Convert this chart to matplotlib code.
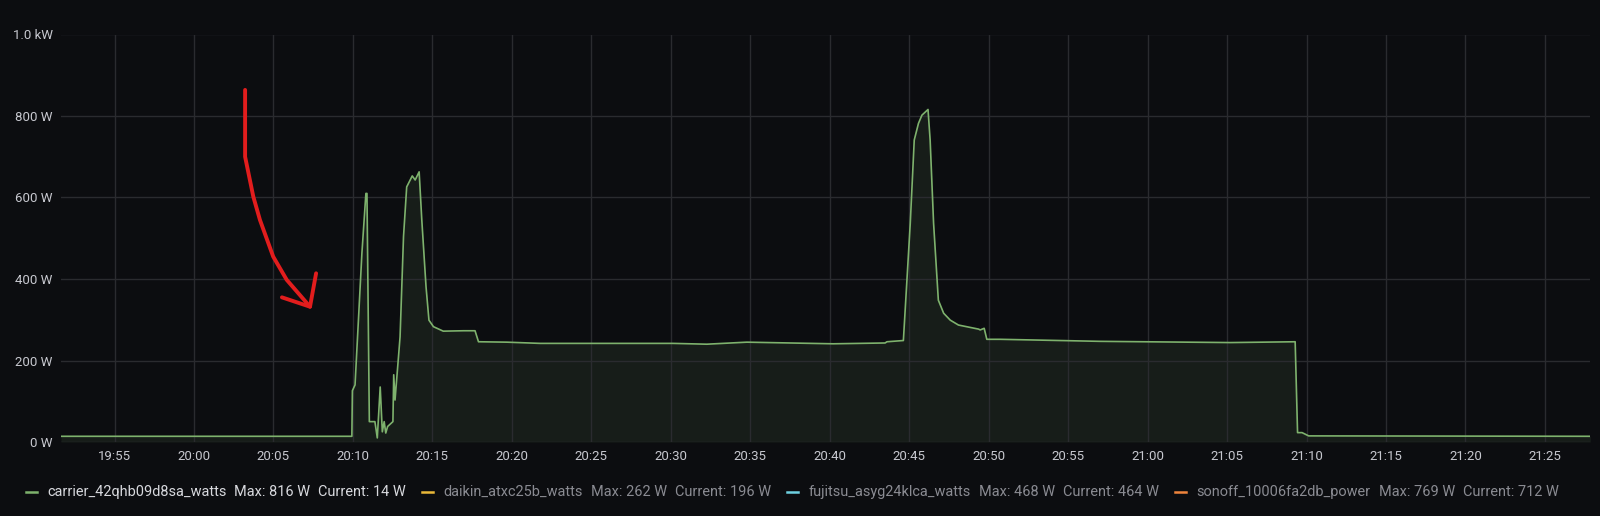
import matplotlib
matplotlib.use("Agg")
from matplotlib import pyplot as plt
from matplotlib import dates as mdates
from matplotlib.lines import Line2D
import pandas as pd

# carrier_42qhb09d8sa_watts
times = ['19:51:38', '20:09:56', '20:09:58', '20:10:08', '20:10:34', '20:10:49', '20:10:53',
         '20:11:02', '20:11:23', '20:11:32', '20:11:43', '20:11:51', '20:11:58', '20:12:04',
         '20:12:11', '20:12:31', '20:12:34', '20:12:39', '20:12:58', '20:13:11', '20:13:23',
         '20:13:44', '20:13:55', '20:14:10', '20:14:20', '20:14:36', '20:14:47', '20:15:04',
         '20:15:41', '20:16:57', '20:17:41', '20:17:54', '20:19:41', '20:21:47', '20:30:09',
         '20:32:16', '20:34:47', '20:40:13', '20:43:29', '20:43:36', '20:44:38', '20:45:04',
         '20:45:19', '20:45:35', '20:45:48', '20:46:11', '20:46:19', '20:46:32', '20:46:50',
         '20:47:10', '20:47:35', '20:48:06', '20:49:22', '20:49:28', '20:49:43', '20:49:53',
         '20:50:44', '20:57:01', '21:05:12', '21:09:17', '21:09:26', '21:09:43', '21:10:08',
         '21:27:51']
watts = [14, 14, 126, 140, 464, 610, 610,
         50, 50, 10, 135, 25, 50, 22,
         38, 50, 165, 103, 258, 504, 626,
         653, 643, 663, 545, 381, 299, 283,
         272, 273, 273, 246, 245, 242, 242,
         240, 245, 241, 243, 246, 249, 537,
         741, 782, 802, 816, 741, 537, 348,
         316, 299, 287, 277, 275, 279, 252,
         252, 247, 244, 246, 23, 23, 15,
         14]

# legend entries
series_names = ['carrier_42qhb09d8sa_watts', 'daikin_atxc25b_watts',
                'fujitsu_asyg24klca_watts', 'sonoff_10006fa2db_power']
series_max = ['816 W', '262 W', '468 W', '769 W']
series_current = ['14 W', '196 W', '464 W', '712 W']
series_colors = ['#7EB26D', '#EAB839', '#6ED0E0', '#EF843C']

y_ticks = [0, 200, 400, 600, 800, 1000]
y_labels = ['0 W', '200 W', '400 W', '600 W', '800 W', '1.0 kW']

# hand drawn red arrow (time, watts)
arrow_times = ['20:03:13', '20:03:13', '20:03:44', '20:04:09', '20:04:59', '20:05:50', '20:07:18']
arrow_watts = [864, 700, 602, 545, 455, 398, 332]
head_times = ['20:05:32', '20:07:18', '20:07:41']
head_watts = [355, 332, 414]

day = '2021-01-01 '
t = pd.to_datetime([day + s for s in times])

bg = '#0c0d10'
grid = '#2a2b2f'
txt = '#c7c8cf'
plt.rcParams['font.family'] = ['Roboto', 'DejaVu Sans']

W, H = 1600, 516
fig = plt.figure(figsize=(16, 5.16), dpi=100)
fig.patch.set_facecolor(bg)
ax = fig.add_axes([61 / W, 1 - 442 / H, (1590 - 61) / W, (442 - 34.5) / H])
ax.set_facecolor(bg)

ax.fill_between(t, watts, 0, color=series_colors[0], alpha=0.1, lw=0)
ax.plot(t, watts, color=series_colors[0], lw=1.2)

ax.set_xlim(pd.Timestamp(day + '19:51:38'), pd.Timestamp(day + '21:27:50'))
ax.set_ylim(0, 1000)
ax.set_yticks(y_ticks)
ax.set_yticklabels(y_labels)
ax.xaxis.set_major_locator(mdates.MinuteLocator(byminute=range(0, 60, 5)))
ax.xaxis.set_major_formatter(mdates.DateFormatter('%H:%M'))
ax.tick_params(colors=txt, labelsize=9.5, length=0)
ax.tick_params(axis='x', pad=6)
ax.tick_params(axis='y', pad=6)
ax.grid(True, color=grid, lw=1)
for s in ax.spines.values():
    s.set_visible(False)

# arrow
ax.plot(pd.to_datetime([day + s for s in arrow_times]), arrow_watts,
        color='#e21d1d', lw=2.8, solid_capstyle='round', solid_joinstyle='round')
ax.plot(pd.to_datetime([day + s for s in head_times]), head_watts,
        color='#e21d1d', lw=2.8, solid_capstyle='round', solid_joinstyle='round')

# legend drawn by hand, Grafana style
r = fig.canvas.get_renderer()
x = 25.5
ly = 1 - 492 / H
for i in range(len(series_names)):
    fig.add_artist(Line2D([x / W, (x + 11) / W], [ly, ly],
                          transform=fig.transFigure, color=series_colors[i], lw=1.8))
    x += 21.5
    col = '#d8d9de' if i == 0 else '#8a8b92'
    for j, s in enumerate([series_names[i], 'Max: ' + series_max[i], 'Current: ' + series_current[i]]):
        tx = fig.text(x / W, ly, s, color=col, fontsize=10.45, va='center', ha='left')
        w = tx.get_window_extent(r).width
        x += w + (8 if j < 2 else 16)

fig.savefig('out.png', dpi=100, facecolor=bg)
